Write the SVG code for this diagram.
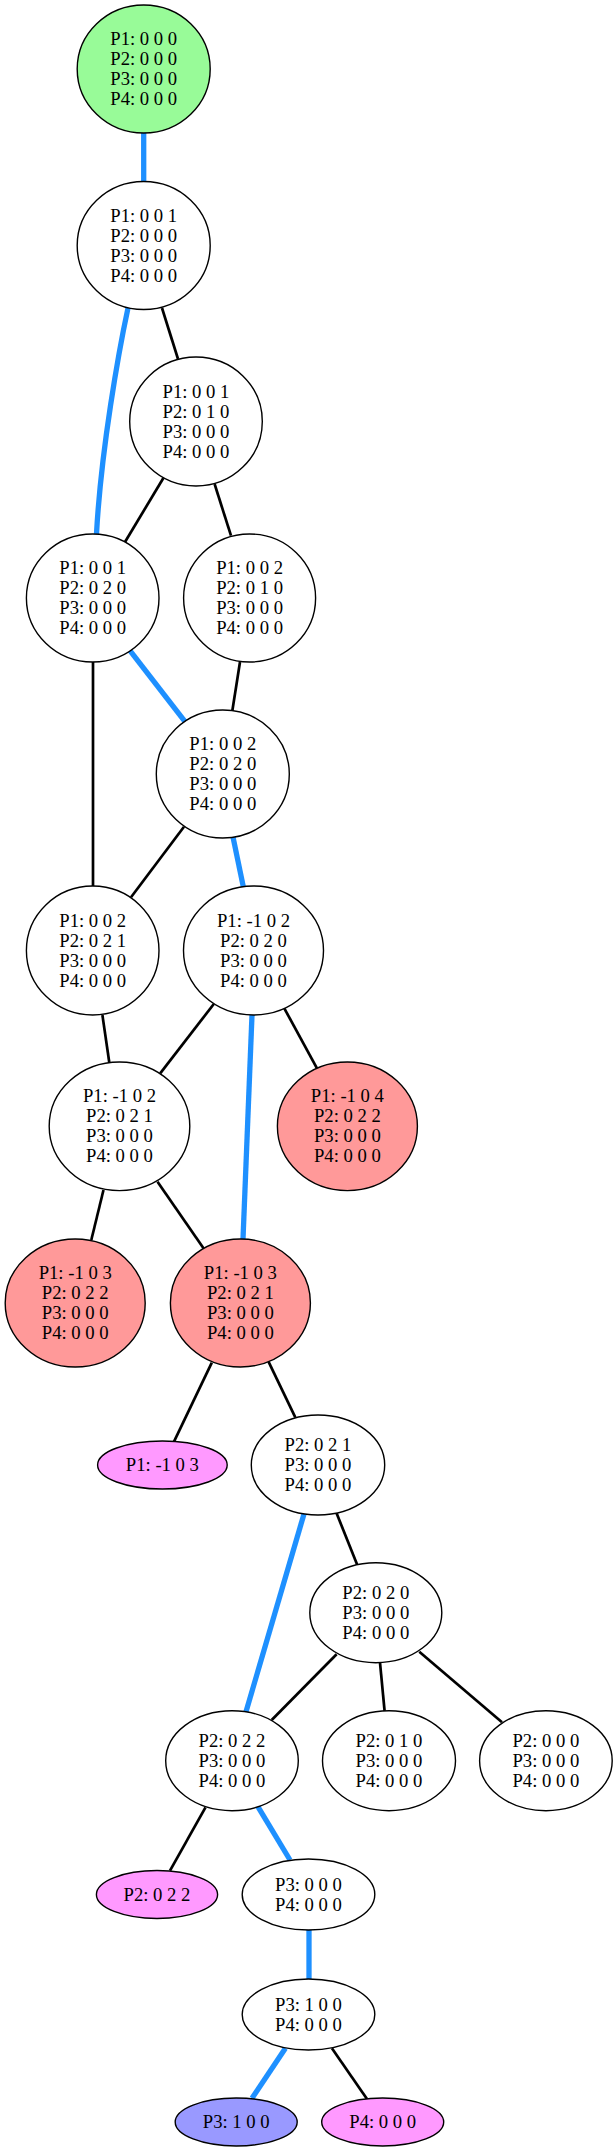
<svg xmlns="http://www.w3.org/2000/svg" width="614" height="2152" viewBox="0 0 614 2152">
<style>
.n{stroke:#000;stroke-width:1.4;fill:#fff}
.g{fill:#98fb98}.r{fill:#ff9999}.p{fill:#ff99ff}.b{fill:#9999ff}
text{font-family:"Liberation Serif","Times New Roman",serif;font-size:18.67px;text-anchor:middle;fill:#000}
.e line,.e path{fill:none;stroke-linecap:butt}
.k{stroke:#000;stroke-width:2.7}
.u{stroke:#1e90ff;stroke-width:5.3}
</style>
<rect width="614" height="2152" fill="#fff"/>
<g id="edges" class="e">
<line class="u" x1="143.7" y1="133" x2="143.7" y2="182"/>
<line class="k" x1="162" y1="308" x2="178" y2="359"/>
<path class="u" d="M128,308 C119,350 101,450 96.5,534"/>
<line class="k" x1="163.4" y1="478" x2="125" y2="542"/>
<line class="k" x1="214.6" y1="484" x2="231" y2="535.7"/>
<line class="u" x1="130" y1="650.7" x2="185" y2="721.7"/>
<line class="k" x1="240" y1="662" x2="232.3" y2="711"/>
<line class="k" x1="93" y1="662" x2="93" y2="886"/>
<line class="k" x1="184" y1="826.7" x2="131" y2="897.3"/>
<line class="u" x1="233" y1="837" x2="243.3" y2="886.7"/>
<line class="k" x1="102.4" y1="1015" x2="109.4" y2="1063.3"/>
<line class="k" x1="213.8" y1="1004" x2="160.2" y2="1073.3"/>
<line class="u" x1="252" y1="1015" x2="243" y2="1239"/>
<line class="k" x1="284.3" y1="1008.3" x2="317" y2="1068.3"/>
<line class="k" x1="103.5" y1="1190" x2="91.3" y2="1240"/>
<line class="k" x1="157.5" y1="1181.7" x2="203.5" y2="1248.3"/>
<line class="k" x1="211.8" y1="1362.7" x2="174" y2="1441.7"/>
<line class="k" x1="268.5" y1="1361.7" x2="295.3" y2="1417.3"/>
<line class="u" x1="304" y1="1514" x2="246" y2="1711.7"/>
<line class="k" x1="336.6" y1="1513.3" x2="357" y2="1564.3"/>
<line class="k" x1="336.6" y1="1654.3" x2="271.7" y2="1720"/>
<line class="k" x1="380" y1="1662.7" x2="384.6" y2="1711"/>
<line class="k" x1="419.3" y1="1651.7" x2="502" y2="1722.3"/>
<line class="k" x1="205.5" y1="1807.3" x2="170" y2="1870.7"/>
<line class="u" x1="257.9" y1="1806.7" x2="290" y2="1860"/>
<line class="u" x1="309" y1="1930" x2="309" y2="1979"/>
<line class="u" x1="285.4" y1="2048.3" x2="252" y2="2098.3"/>
<line class="k" x1="331.9" y1="2048.3" x2="367" y2="2099"/>
</g>
<g id="nA"><ellipse class="n g" cx="143.7" cy="69" rx="66.5" ry="64"/><text x="143.7" y="45">P1: 0 0 0</text><text x="143.7" y="65">P2: 0 0 0</text><text x="143.7" y="85">P3: 0 0 0</text><text x="143.7" y="105">P4: 0 0 0</text></g>
<g id="nB"><ellipse class="n" cx="143.7" cy="245.5" rx="66.5" ry="64"/><text x="143.7" y="221.5">P1: 0 0 1</text><text x="143.7" y="241.5">P2: 0 0 0</text><text x="143.7" y="261.5">P3: 0 0 0</text><text x="143.7" y="281.5">P4: 0 0 0</text></g>
<g id="nC"><ellipse class="n" cx="196" cy="421.5" rx="66.3" ry="64.5"/><text x="196" y="397.5">P1: 0 0 1</text><text x="196" y="417.5">P2: 0 1 0</text><text x="196" y="437.5">P3: 0 0 0</text><text x="196" y="457.5">P4: 0 0 0</text></g>
<g id="nD"><ellipse class="n" cx="92.7" cy="598" rx="66.3" ry="64"/><text x="92.7" y="574">P1: 0 0 1</text><text x="92.7" y="594">P2: 0 2 0</text><text x="92.7" y="614">P3: 0 0 0</text><text x="92.7" y="634">P4: 0 0 0</text></g>
<g id="nE"><ellipse class="n" cx="249.6" cy="598" rx="66" ry="64"/><text x="249.6" y="574">P1: 0 0 2</text><text x="249.6" y="594">P2: 0 1 0</text><text x="249.6" y="614">P3: 0 0 0</text><text x="249.6" y="634">P4: 0 0 0</text></g>
<g id="nF"><ellipse class="n" cx="222.8" cy="774" rx="66.5" ry="64"/><text x="222.8" y="750">P1: 0 0 2</text><text x="222.8" y="770">P2: 0 2 0</text><text x="222.8" y="790">P3: 0 0 0</text><text x="222.8" y="810">P4: 0 0 0</text></g>
<g id="nG"><ellipse class="n" cx="92.7" cy="950.5" rx="66.3" ry="64.5"/><text x="92.7" y="926.5">P1: 0 0 2</text><text x="92.7" y="946.5">P2: 0 2 1</text><text x="92.7" y="966.5">P3: 0 0 0</text><text x="92.7" y="986.5">P4: 0 0 0</text></g>
<g id="nH"><ellipse class="n" cx="253.5" cy="950.5" rx="70" ry="64.5"/><text x="253.5" y="926.5">P1: -1 0 2</text><text x="253.5" y="946.5">P2: 0 2 0</text><text x="253.5" y="966.5">P3: 0 0 0</text><text x="253.5" y="986.5">P4: 0 0 0</text></g>
<g id="nI"><ellipse class="n" cx="119.5" cy="1126.3" rx="70.3" ry="64.3"/><text x="119.5" y="1102.3">P1: -1 0 2</text><text x="119.5" y="1122.3">P2: 0 2 1</text><text x="119.5" y="1142.3">P3: 0 0 0</text><text x="119.5" y="1162.3">P4: 0 0 0</text></g>
<g id="nJ"><ellipse class="n r" cx="347.4" cy="1126.3" rx="70" ry="64.3"/><text x="347.4" y="1102.3">P1: -1 0 4</text><text x="347.4" y="1122.3">P2: 0 2 2</text><text x="347.4" y="1142.3">P3: 0 0 0</text><text x="347.4" y="1162.3">P4: 0 0 0</text></g>
<g id="nL"><ellipse class="n r" cx="75.2" cy="1303" rx="70" ry="64"/><text x="75.2" y="1279">P1: -1 0 3</text><text x="75.2" y="1299">P2: 0 2 2</text><text x="75.2" y="1319">P3: 0 0 0</text><text x="75.2" y="1339">P4: 0 0 0</text></g>
<g id="nK"><ellipse class="n r" cx="240.4" cy="1303" rx="70" ry="64"/><text x="240.4" y="1279">P1: -1 0 3</text><text x="240.4" y="1299">P2: 0 2 1</text><text x="240.4" y="1319">P3: 0 0 0</text><text x="240.4" y="1339">P4: 0 0 0</text></g>
<g id="nM"><ellipse class="n p" cx="162.4" cy="1465" rx="64.8" ry="24"/><text x="162.4" y="1471">P1: -1 0 3</text></g>
<g id="nN"><ellipse class="n" cx="318" cy="1465" rx="66.7" ry="50"/><text x="318" y="1451">P2: 0 2 1</text><text x="318" y="1471">P3: 0 0 0</text><text x="318" y="1491">P4: 0 0 0</text></g>
<g id="nO"><ellipse class="n" cx="375.8" cy="1612.7" rx="66" ry="50"/><text x="375.8" y="1598.7">P2: 0 2 0</text><text x="375.8" y="1618.7">P3: 0 0 0</text><text x="375.8" y="1638.7">P4: 0 0 0</text></g>
<g id="nP"><ellipse class="n" cx="232" cy="1760.7" rx="66.3" ry="50"/><text x="232" y="1746.7">P2: 0 2 2</text><text x="232" y="1766.7">P3: 0 0 0</text><text x="232" y="1786.7">P4: 0 0 0</text></g>
<g id="nQ"><ellipse class="n" cx="389" cy="1760.7" rx="66.5" ry="50"/><text x="389" y="1746.7">P2: 0 1 0</text><text x="389" y="1766.7">P3: 0 0 0</text><text x="389" y="1786.7">P4: 0 0 0</text></g>
<g id="nR"><ellipse class="n" cx="545.9" cy="1760.7" rx="66.3" ry="50"/><text x="545.9" y="1746.7">P2: 0 0 0</text><text x="545.9" y="1766.7">P3: 0 0 0</text><text x="545.9" y="1786.7">P4: 0 0 0</text></g>
<g id="nS"><ellipse class="n p" cx="157" cy="1894.5" rx="60.6" ry="24"/><text x="157" y="1900.5">P2: 0 2 2</text></g>
<g id="nT"><ellipse class="n" cx="308.5" cy="1894.5" rx="66.3" ry="35.5"/><text x="308.5" y="1890.5">P3: 0 0 0</text><text x="308.5" y="1910.5">P4: 0 0 0</text></g>
<g id="nU"><ellipse class="n" cx="308.5" cy="2014.5" rx="66.3" ry="35.5"/><text x="308.5" y="2010.5">P3: 1 0 0</text><text x="308.5" y="2030.5">P4: 0 0 0</text></g>
<g id="nV"><ellipse class="n b" cx="236.2" cy="2122" rx="61" ry="24"/><text x="236.2" y="2128">P3: 1 0 0</text></g>
<g id="nW"><ellipse class="n p" cx="382.7" cy="2122" rx="61" ry="24"/><text x="382.7" y="2128">P4: 0 0 0</text></g>
</svg>
